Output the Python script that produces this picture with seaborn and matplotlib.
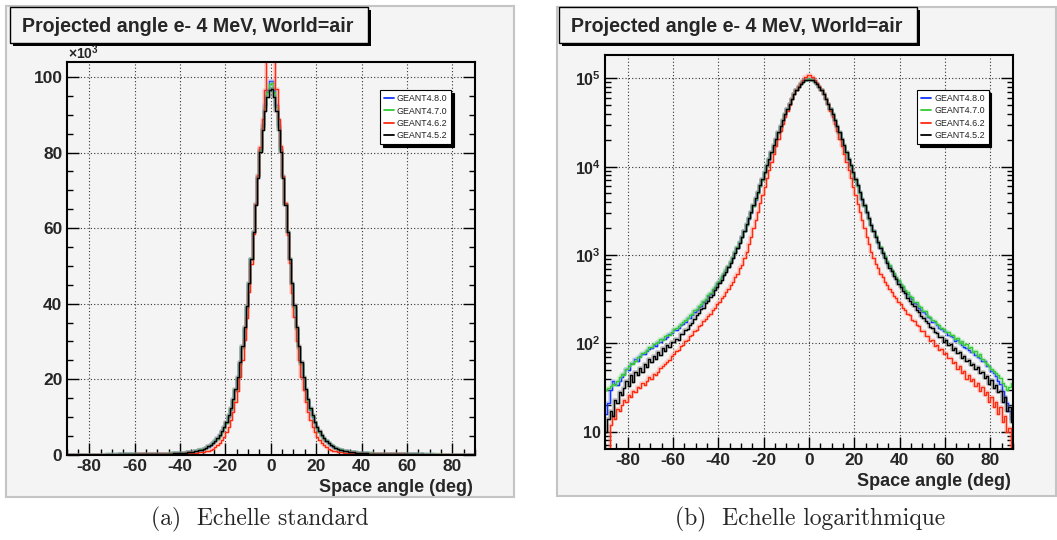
import numpy as np
import pandas as pd
import matplotlib
matplotlib.use("Agg")
import matplotlib.pyplot as plt
import seaborn as sns
from matplotlib.patches import Rectangle
from matplotlib.lines import Line2D
from matplotlib.ticker import MultipleLocator, LogLocator, FuncFormatter, NullFormatter

# ---------------------------------------------------------------------------
# Histogram contents: projected angle of 4 MeV electrons, 1 degree bins
# from -90 to 90 degrees (180 bins, ordered from -89.5 to +89.5).
# ---------------------------------------------------------------------------
angle_edges = list(range(-90, 91))

g4_8_0 = [
    16, 21, 30, 38, 35, 34, 38, 42, 45, 52,
    50, 58, 60, 66, 64, 72, 76, 75, 83, 86,
    88, 95, 94, 103, 104, 112, 113, 119, 128, 130,
    141, 143, 150, 163, 166, 176, 192, 196, 210, 228,
    236, 258, 268, 294, 308, 340, 358, 396, 420, 468,
    500, 560, 605, 680, 742, 840, 935, 1070, 1205, 1395,
    1595, 1865, 2175, 2565, 3015, 3585, 4245, 5055, 5995, 7105,
    8490, 10100, 11990, 14260, 16930, 20130, 23920, 28270, 33300, 38990,
    45150, 51850, 59000, 66500, 73900, 80950, 87220, 92520, 96600, 98850,
    98950, 96610, 92490, 87230, 80940, 73920, 66480, 58990, 51860, 45140,
    39010, 33290, 28280, 23910, 20140, 16920, 14270, 11980, 10110, 8480,
    7095, 6005, 5045, 4255, 3575, 3025, 2555, 2185, 1855, 1605,
    1385, 1215, 1060, 945, 830, 752, 668, 615, 548, 512,
    455, 436, 394, 362, 335, 320, 287, 279, 255, 241,
    225, 214, 199, 193, 174, 175, 160, 151, 145, 137,
    133, 125, 121, 118, 106, 108, 100, 95, 92, 88,
    85, 81, 79, 74, 71, 68, 63, 64, 55, 56,
    49, 46, 43, 38, 35, 29, 25, 21, 17, 14,
]

g4_7_0 = [
    30, 31, 33, 35, 34, 38, 42, 45, 44, 52,
    56, 60, 58, 64, 70, 71, 78, 80, 84, 92,
    90, 98, 102, 104, 112, 110, 120, 126, 125, 136,
    145, 150, 156, 168, 174, 185, 196, 210, 218, 236,
    248, 266, 282, 305, 322, 352, 372, 410, 436, 482,
    515, 575, 620, 695, 760, 860, 955, 1090, 1225, 1415,
    1620, 1895, 2205, 2595, 3055, 3625, 4295, 5105, 6045, 7155,
    8540, 10150, 12090, 14360, 17030, 20230, 24020, 28370, 33400, 39090,
    45250, 51850, 58990, 66400, 73700, 80650, 86820, 92100, 96100, 98250,
    98350, 96110, 92110, 86830, 80660, 73710, 66380, 59010, 51860, 45260,
    39080, 33410, 28360, 24030, 20220, 17040, 14350, 12100, 10140, 8550,
    7145, 6055, 5095, 4305, 3615, 3065, 2585, 2215, 1885, 1630,
    1405, 1235, 1080, 965, 850, 770, 685, 632, 565, 528,
    472, 446, 402, 382, 345, 336, 298, 292, 262, 258,
    230, 232, 205, 201, 183, 180, 164, 162, 149, 147,
    136, 134, 123, 125, 112, 114, 102, 106, 95, 98,
    88, 92, 80, 83, 73, 75, 66, 62, 58, 56,
    52, 49, 46, 44, 41, 36, 33, 30, 32, 36,
]

g4_6_2 = [
    5, 6, 12, 15, 14, 18, 17, 20, 23, 22,
    26, 25, 29, 28, 32, 31, 36, 34, 38, 42,
    40, 45, 44, 48, 53, 55, 58, 62, 65, 72,
    76, 82, 85, 94, 96, 106, 110, 121, 125, 138,
    142, 158, 162, 180, 188, 206, 218, 242, 252, 282,
    296, 325, 346, 384, 410, 462, 495, 560, 615, 705,
    780, 915, 1090, 1320, 1610, 2000, 2480, 3080, 3840, 4780,
    5950, 7400, 9150, 11300, 13900, 17000, 20700, 25100, 30300, 36300,
    43000, 50500, 58500, 66500, 74000, 81500, 89000, 96500, 105000, 108400,
    108600, 104800, 96700, 88800, 81700, 73800, 66700, 58300, 50700, 42800,
    36400, 30200, 25200, 20600, 17050, 13850, 11350, 9130, 7420, 5930,
    4790, 3830, 3090, 2470, 2005, 1615, 1330, 1095, 925, 785,
    705, 615, 560, 495, 460, 410, 385, 345, 326, 294,
    280, 250, 242, 216, 208, 186, 181, 160, 158, 139,
    138, 122, 121, 107, 108, 94, 95, 84, 86, 75,
    77, 68, 69, 60, 61, 52, 55, 46, 49, 40,
    44, 38, 40, 33, 36, 29, 32, 26, 28, 22,
    25, 19, 22, 16, 19, 13, 15, 10, 11, 6,
]

g4_5_2 = [
    10, 14, 17, 15, 23, 21, 28, 26, 31, 38,
    33, 44, 37, 47, 44, 53, 48, 58, 54, 66,
    61, 72, 67, 80, 74, 88, 82, 95, 90, 103,
    104, 112, 109, 127, 128, 143, 147, 160, 170, 190,
    212, 220, 244, 255, 284, 300, 335, 356, 398, 430,
    482, 522, 590, 645, 730, 810, 925, 1045, 1205, 1385,
    1615, 1885, 2225, 2615, 3105, 3675, 4390, 5190, 6210, 7340,
    8800, 10420, 12380, 14640, 17450, 20650, 24500, 28850, 33950, 39500,
    45500, 51900, 58900, 66200, 73350, 80050, 86050, 90990, 94830, 96650,
    96750, 94790, 91030, 86000, 80070, 73300, 66230, 58850, 51950, 45450,
    39550, 33930, 28880, 24480, 20660, 17430, 14660, 12370, 10430, 8790,
    7360, 6190, 5210, 4370, 3690, 3095, 2625, 2215, 1895, 1605,
    1395, 1195, 1055, 915, 822, 718, 656, 578, 535, 470,
    440, 388, 368, 325, 306, 280, 262, 236, 226, 205,
    196, 178, 170, 155, 150, 136, 132, 118, 119, 104,
    108, 96, 99, 85, 88, 78, 80, 69, 72, 63,
    65, 57, 59, 51, 54, 46, 48, 41, 43, 35,
    39, 31, 34, 28, 29, 22, 25, 17, 19, 13,
]

versions = ["GEANT4.8.0", "GEANT4.7.0", "GEANT4.6.2", "GEANT4.5.2"]
series = [g4_8_0, g4_7_0, g4_6_2, g4_5_2]
line_colors = ["#1233ff", "#33cc33", "#ff2a10", "#000000"]
halo_colors = ["#6f86ff", "#8fe08f", "#ff8a78", "#555555"]

title_text = "Projected angle e- 4 MeV, World=air"
x_label = "Space angle (deg)"
captions = ["(a)  Echelle standard", "(b)  Echelle logarithmique"]

# ---------------------------------------------------------------------------
# Long-form table for seaborn
# ---------------------------------------------------------------------------
edges_arr = np.asarray(angle_edges, dtype=float)
centers = 0.5 * (edges_arr[:-1] + edges_arr[1:])
frames = []
for name, vals in zip(versions, series):
    frames.append(pd.DataFrame({"angle": centers, "count": vals, "version": name}))
df = pd.concat(frames, ignore_index=True)

# ---------------------------------------------------------------------------
# Style
# ---------------------------------------------------------------------------
sns.set_theme(style="ticks")
plt.rcParams["font.family"] = ["Liberation Sans", "DejaVu Sans"]
plt.rcParams["font.weight"] = "bold"
plt.rcParams["mathtext.fontset"] = "custom"
plt.rcParams["mathtext.rm"] = "Liberation Sans"
plt.rcParams["mathtext.bf"] = "Liberation Sans:bold"
plt.rcParams["axes.unicode_minus"] = False

W, H = 1057, 540
fig = plt.figure(figsize=(W / 100, H / 100), dpi=100)
fig.patch.set_facecolor("white")


def fx(px):
    return px / W


def fy(py):
    return 1 - py / H


PAD_BG = "#f4f4f4"

# pads
for (x0, y0, x1, y1) in [(6, 6, 514, 497), (557, 7, 1056, 496)]:
    fig.add_artist(Rectangle((fx(x0), fy(y1)), (x1 - x0) / W, (y1 - y0) / H,
                             transform=fig.transFigure, facecolor=PAD_BG,
                             edgecolor="#c4c4c4", linewidth=1.5, zorder=0))

# title boxes with drop shadow
for (x0, y0, x1, y1) in [(10, 7.4, 368, 43.3), (559, 7.4, 917, 43.3)]:
    fig.add_artist(Rectangle((fx(x0 + 3), fy(y1 + 3)), (x1 - x0) / W, (y1 - y0) / H,
                             transform=fig.transFigure, facecolor="black",
                             edgecolor="black", linewidth=0, zorder=1))
    fig.add_artist(Rectangle((fx(x0), fy(y1)), (x1 - x0) / W, (y1 - y0) / H,
                             transform=fig.transFigure, facecolor=PAD_BG,
                             edgecolor="black", linewidth=1.0, zorder=2))
    fig.text(fx(x0 + 12), fy((y0 + y1) / 2 + 1), title_text, fontsize=14.1,
             fontweight="bold", ha="left", va="center", zorder=3)

ax1 = fig.add_axes([fx(66.6), fy(454.8), (475 - 66.6) / W, (454.8 - 61.9) / H])
ax2 = fig.add_axes([fx(605), fy(448.9), (1013 - 605) / W, (448.9 - 55) / H])

for ax in (ax1, ax2):
    ax.set_facecolor(PAD_BG)
    for name, col, halo in zip(versions, line_colors, halo_colors):
        sub = df[df["version"] == name]
        sns.histplot(data=sub, x="angle", weights="count", bins=angle_edges,
                     element="step", fill=False, color=halo, linewidth=2.6,
                     alpha=0.35, ax=ax)
        sns.histplot(data=sub, x="angle", weights="count", bins=angle_edges,
                     element="step", fill=False, color=col, linewidth=1.0,
                     ax=ax)

# ---------------------------------------------------------------------------
# Axes decoration
# ---------------------------------------------------------------------------
grid_kw = dict(color="#333333", linestyle=(0, (1, 2)), linewidth=0.8)

# linear panel
ax1.set_xlim(-90, 90)
ax1.set_ylim(0, 104000)
ax1.xaxis.set_major_locator(MultipleLocator(20))
ax1.xaxis.set_minor_locator(MultipleLocator(5))
ax1.yaxis.set_major_locator(MultipleLocator(20000))
ax1.yaxis.set_minor_locator(MultipleLocator(5000))
ax1.yaxis.set_major_formatter(FuncFormatter(lambda v, p: f"{v / 1000:.0f}"))
# exponent marker above the y axis
fig.text(fx(67.5), fy(61.5), r"$\times10^{3}$", fontsize=10,
         fontweight="normal", ha="left", va="bottom", zorder=4)

# logarithmic panel
ax2.set_yscale("log")
ax2.set_xlim(-90, 90)
ax2.set_ylim(6.4, 1.84e5)
ax2.xaxis.set_major_locator(MultipleLocator(20))
ax2.xaxis.set_minor_locator(MultipleLocator(5))
ax2.yaxis.set_major_locator(LogLocator(base=10, numticks=10))
ax2.yaxis.set_minor_locator(LogLocator(base=10, subs=np.arange(2, 10), numticks=20))
ax2.yaxis.set_minor_formatter(NullFormatter())


def log_fmt(v, p):
    n = int(round(np.log10(v)))
    if n == 1:
        return "10"
    return r"$\mathbf{10^{%d}}$" % n


ax2.yaxis.set_major_formatter(FuncFormatter(log_fmt))

for ax in (ax1, ax2):
    ax.grid(True, which="major", **grid_kw)
    ax.set_axisbelow(True)
    ax.tick_params(which="both", direction="in", right=True, top=False,
                   color="black", width=1.0)
    ax.tick_params(which="major", length=8.5, labelsize=12.5, pad=3)
    ax.tick_params(which="minor", length=4.3)
    for s in ax.spines.values():
        s.set_visible(True)
        s.set_linewidth(1.5)
        s.set_color("black")
    ax.set_ylabel("")
    ax.set_xlabel(x_label, fontsize=13, fontweight="bold", ha="right", va="center")
    h_ax = ax.get_position().height * H
    ax.xaxis.set_label_coords(0.995, -32.7 / h_ax)

    handles = [Line2D([0], [0], color=c, lw=1.3) for c in line_colors]
    leg_anchor = (0.767, 0.928) if ax is ax1 else (0.765, 0.911)
    leg = ax.legend(handles, versions, loc="upper left", bbox_to_anchor=leg_anchor,
                    prop={"size": 6.4, "weight": "normal"}, frameon=True,
                    fancybox=False, edgecolor="black", facecolor="white",
                    framealpha=1, shadow={"color": "black", "alpha": 1},
                    handlelength=1.1, handletextpad=0.35, borderpad=0.45,
                    labelspacing=0.38, borderaxespad=0)
    leg.get_frame().set_linewidth(0.8)
    for t in leg.get_texts():
        t.set_color("#222222")

ax2.tick_params(axis="y", which="major", labelsize=11.5)

# captions
fig.text(fx(260), fy(519.7), captions[0], family="cmr10", fontsize=17,
         fontweight="normal", ha="center", va="center")
fig.text(fx(810), fy(519.7), captions[1], family="cmr10", fontsize=17,
         fontweight="normal", ha="center", va="center")

fig.savefig("out.png", dpi=100, facecolor="white")
